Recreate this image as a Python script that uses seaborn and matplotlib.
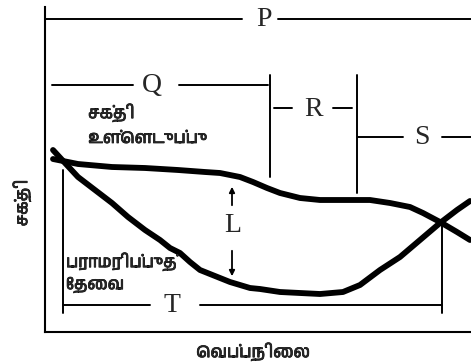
import matplotlib
matplotlib.use("Agg")
import matplotlib.pyplot as plt
import matplotlib.patheffects as pe
import seaborn as sns
from matplotlib import font_manager
from fontTools.ttLib import TTFont

# curves (pixel positions of the original drawing)
intake_x = [53, 78, 112, 145, 178, 205, 220, 240, 253, 267, 280, 300, 320, 340,
            370, 390, 410, 423, 440, 457, 470]
intake_y = [159, 164, 167, 168, 170, 172, 173, 177, 182, 188, 193, 198, 200, 200,
            200, 203, 207, 213, 222, 232, 240]

need_x = [53, 65, 78, 95, 112, 128, 145, 160, 170, 180, 190, 200, 210, 220, 230,
          240, 250, 260, 280, 300, 320, 343, 360, 380, 400, 420, 440, 457, 470]
need_y = [150, 163, 177, 190, 203, 217, 230, 240, 248, 253, 262, 270, 274, 278, 282,
          285, 288, 289, 292, 293, 294, 292, 285, 270, 257, 240, 223, 210, 201]

# bracket labels: name, line y, left segment, label x, right segment
bracket_names = ["P", "Q", "R", "S", "T"]
bracket_y = [19, 85, 108, 137, 305]
bracket_left = [(45, 242), (52, 133), (274, 292), (358, 403), (63, 150)]
bracket_label_x = [264, 152, 314, 422, 172]
bracket_right = [(278, 471), (179, 268), (333, 352), (442, 471), (200, 442)]

# vertical marker lines: x, top, bottom
vline_x = [270, 357, 63, 442]
vline_top = [75, 75, 170, 225]
vline_bottom = [177, 193, 313, 313]

intake_lines = ["சக்தி", "உள்ளெடுப்பு"]
need_lines = ["பராமரிப்புத்", "தேவை"]
x_label = "வெப்பநிலை"
y_label = "சக்தி"

PREFIX_SIGNS = "\u0bc6\u0bc7\u0bc8"


def visual(s):
    # no text shaping in matplotlib: put the left-side vowel signs before their consonant
    out = []
    for ch in s:
        if ch in PREFIX_SIGNS and out:
            out.insert(len(out) - 1, ch)
        else:
            out.append(ch)
    return "".join(out)


def find_tamil_font():
    cands = sorted(font_manager.fontManager.ttflist,
                   key=lambda f: (0 if "Tamil" in f.name else 1, f.name))
    for f in cands:
        try:
            tt = TTFont(f.fname, fontNumber=0, lazy=True)
            if 0x0B9A in tt.getBestCmap():
                return f.name
        except Exception:
            continue
    return "DejaVu Sans"


sns.set_style("white")
tamil = find_tamil_font()
plt.rcParams["font.family"] = [tamil, "DejaVu Sans"]

fig = plt.figure(figsize=(4.71, 3.62), dpi=100)
ax = fig.add_axes([45 / 471, 30 / 362, 426 / 471, 325 / 362])
ax.set_xlim(45, 471)
ax.set_ylim(332, 7)
ax.set_xticks([])
ax.set_yticks([])
for side in ["top", "right"]:
    ax.spines[side].set_visible(False)
for side in ["left", "bottom"]:
    ax.spines[side].set_linewidth(1.5)
    ax.spines[side].set_color("black")

sns.lineplot(x=intake_x, y=intake_y, ax=ax, color="black", lw=4.2,
             sort=False, estimator=None, solid_capstyle="round", solid_joinstyle="round")
sns.lineplot(x=need_x, y=need_y, ax=ax, color="black", lw=4.2,
             sort=False, estimator=None, solid_capstyle="round", solid_joinstyle="round")

serif = dict(family="Liberation Serif", fontsize=20, ha="center", va="center")
for name, y, (a0, a1), lx, (b0, b1) in zip(bracket_names, bracket_y, bracket_left,
                                           bracket_label_x, bracket_right):
    ax.plot([a0, a1], [y, y], color="black", lw=1.4, clip_on=False)
    ax.plot([b0, b1], [y, y], color="black", lw=1.4, clip_on=False)
    ax.text(lx, y + 1, name, **serif)

for x, y0, y1 in zip(vline_x, vline_top, vline_bottom):
    ax.plot([x, x], [y0, y1], color="black", lw=1.4)

# L with arrows
ax.text(233, 226, "L", **serif)
ax.annotate("", xy=(232, 184), xytext=(232, 208),
            arrowprops=dict(arrowstyle="-|>", color="black", lw=1.3, mutation_scale=8))
ax.annotate("", xy=(232, 279), xytext=(232, 248),
            arrowprops=dict(arrowstyle="-|>", color="black", lw=1.3, mutation_scale=8))

thick = [pe.withStroke(linewidth=0.5, foreground="black")]
tfont = dict(fontsize=12, path_effects=thick)
for txt, y in zip(intake_lines, [113, 139]):
    ax.text(88, y, visual(txt), ha="left", va="center", **tfont)
for txt, y in zip(need_lines, [262, 285]):
    ax.text(66, y, visual(txt), ha="left", va="center", **tfont)
ax.text(253, 352, visual(x_label), ha="center", va="center", clip_on=False, **tfont)
ax.text(22, 203, visual(y_label), ha="center", va="center", rotation=90, clip_on=False, **tfont)

fig.savefig("out.png", dpi=100)
